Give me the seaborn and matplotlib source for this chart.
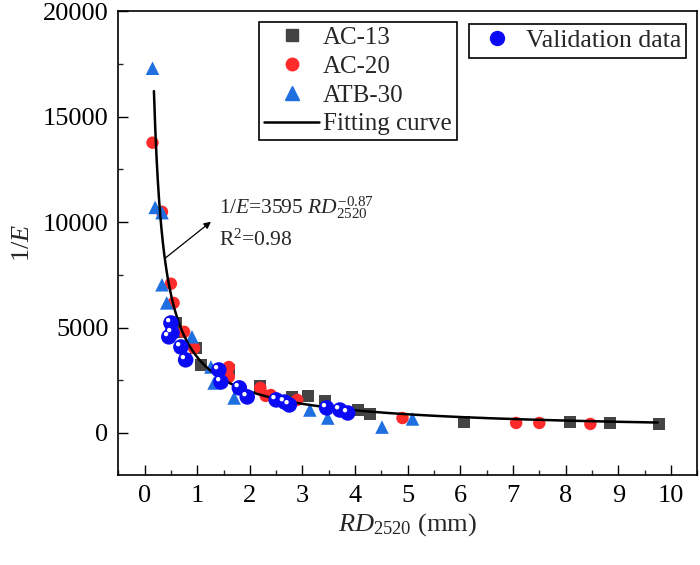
import numpy as np
import pandas as pd
import matplotlib
matplotlib.use("Agg")
import matplotlib.pyplot as plt
import matplotlib.transforms as mtransforms
from matplotlib.lines import Line2D
from matplotlib.ticker import MultipleLocator
import seaborn as sns

# ---------------- data ----------------
ac13_x = [0.60, 0.70, 0.97, 1.07, 1.60, 2.20, 2.80, 3.10, 3.42, 4.05, 4.28, 6.06, 8.09, 8.84, 9.77]
ac13_y = [5200, 4800, 4030, 3230, 2990, 2230, 1710, 1760, 1500, 1090, 900, 520, 520, 475, 430]

ac20_x = [0.15, 0.33, 0.50, 0.55, 0.75, 0.94, 1.60, 1.60, 2.20, 2.30, 2.40, 2.90, 4.90, 7.06, 7.50, 8.47]
ac20_y = [13770, 10490, 7080, 6170, 4800, 4030, 3130, 2660, 2140, 1760, 1800, 1570, 710, 475, 475, 430]

atb30_x = [0.15, 0.20, 0.33, 0.33, 0.42, 0.90, 1.26, 1.32, 1.70, 3.14, 3.48, 4.51, 5.09]
atb30_y = [17300, 10700, 10450, 7030, 6170, 4560, 3130, 2370, 1660, 1090, 710, 280, 665]

val_x = [0.50, 0.52, 0.46, 0.69, 0.78, 1.41, 1.45, 1.80, 1.95, 2.50, 2.66, 2.75, 3.46, 3.71, 3.86]
val_y = [5220, 4750, 4560, 4080, 3470, 2990, 2420, 2140, 1710, 1570, 1470, 1330, 1190, 1090, 950]

fit_a = 3595
fit_b = -0.87
fit_x_range = (0.177, 9.75)

x_ticks = [0, 1, 2, 3, 4, 5, 6, 7, 8, 9, 10]
y_ticks = [0, 5000, 10000, 15000, 20000]

# ---------------- style ----------------
sns.set_theme(style="ticks")
plt.rcParams["font.family"] = ["Liberation Serif", "DejaVu Serif"]
plt.rcParams["mathtext.fontset"] = "custom"
plt.rcParams["mathtext.rm"] = "Liberation Serif"
plt.rcParams["mathtext.it"] = "Liberation Serif:italic"
plt.rcParams["mathtext.bf"] = "Liberation Serif:bold"

fig = plt.figure(figsize=(7.0, 5.65), dpi=100)
ax = fig.add_axes([0.169, 0.159, 0.827, 0.821])

c_sq = "#444444"
c_red = "#ff2b2b"
c_tri = "#1f6fe0"
c_val = "#0a0af5"

df13 = pd.DataFrame({"x": ac13_x, "y": ac13_y})
df20 = pd.DataFrame({"x": ac20_x, "y": ac20_y})
df30 = pd.DataFrame({"x": atb30_x, "y": atb30_y})
dfv = pd.DataFrame({"x": val_x, "y": val_y})

sns.scatterplot(data=df13, x="x", y="y", marker="s", s=75, color=c_sq,
                edgecolor="none", ax=ax, zorder=3)
sns.scatterplot(data=df20, x="x", y="y", marker="o", s=80, color=c_red,
                edgecolor="none", ax=ax, zorder=3)
sns.scatterplot(data=df30, x="x", y="y", marker="^", s=95, color=c_tri,
                edgecolor="none", ax=ax, zorder=3)

xf = np.linspace(fit_x_range[0], fit_x_range[1], 400)
dff = pd.DataFrame({"x": xf, "y": fit_a * xf ** fit_b})
sns.lineplot(data=dff, x="x", y="y", color="black", lw=1.8, ax=ax, zorder=4,
             estimator=None, sort=False)

sns.scatterplot(data=dfv, x="x", y="y", marker="o", s=125, color=c_val,
                edgecolor="none", ax=ax, zorder=5)
hl = mtransforms.offset_copy(ax.transData, fig=fig, x=-2.0, y=2.0, units="points")
ax.scatter(dfv["x"], dfv["y"], marker="o", s=10, color="white",
           edgecolor="none", transform=hl, zorder=6)

# ---------------- axes ----------------
ax.set_xlim(-0.5, 10.5)
ax.set_ylim(-2000, 20000)
ax.set_xticks(x_ticks)
ax.set_yticks(y_ticks)
ax.xaxis.set_minor_locator(MultipleLocator(0.5))
ax.yaxis.set_minor_locator(MultipleLocator(2500))
ax.tick_params(axis="both", which="major", direction="in", length=7, width=1.0,
               labelsize=19, colors="black", pad=7)
ax.tick_params(axis="both", which="minor", direction="in", length=3.5, width=1.0)
ax.tick_params(top=False, right=False, which="both")
for sp in ax.spines.values():
    sp.set_visible(True)
    sp.set_linewidth(1.2)
    sp.set_color("black")

ax.set_xlabel(r"$RD_{2520}$ (mm)", fontsize=19, labelpad=3)
ax.set_ylabel(r"1/$E$", fontsize=19, labelpad=6)

# ---------------- annotation ----------------
ax.text(1.41, 10680, r"1/$E$=3595 $RD_{2520}^{-0.87}$", fontsize=15.5,
        va="center", ha="left")
ax.text(1.41, 9160, r"R$^2$=0.98", fontsize=15.5, va="center", ha="left")
ax.annotate("", xy=(1.26, 10020), xytext=(0.40, 8310),
            arrowprops=dict(arrowstyle="-|>", lw=0.9, color="black",
                            mutation_scale=10, shrinkA=0, shrinkB=0))

# ---------------- legends ----------------
h1 = [
    Line2D([], [], marker="s", ls="none", color=c_sq, markersize=8.5),
    Line2D([], [], marker="o", ls="none", color=c_red, markersize=9),
    Line2D([], [], marker="^", ls="none", color=c_tri, markersize=10),
    Line2D([], [], color="black", lw=1.8),
]
leg1 = ax.legend(h1, ["AC-13", "AC-20", "ATB-30", "Fitting curve"],
                 loc="upper left", bbox_to_anchor=(0.2435, 0.978),
                 fontsize=18, frameon=True, fancybox=False, framealpha=1,
                 edgecolor="black", borderpad=0.2, labelspacing=0.25,
                 handlelength=2.2, handletextpad=0.15, borderaxespad=0)
leg1.get_frame().set_linewidth(1.2)
ax.add_artist(leg1)

h2 = [Line2D([], [], marker="o", ls="none", color=c_val, markersize=10)]
leg2 = ax.legend(h2, ["Validation data"], loc="upper left",
                 bbox_to_anchor=(0.606, 0.972), fontsize=18.5, frameon=True,
                 fancybox=False, framealpha=1, edgecolor="black",
                 borderpad=0.2, handlelength=1.8, handletextpad=0.2,
                 borderaxespad=0)
leg2.get_frame().set_linewidth(1.2)

fig.savefig("out.png", dpi=100)
